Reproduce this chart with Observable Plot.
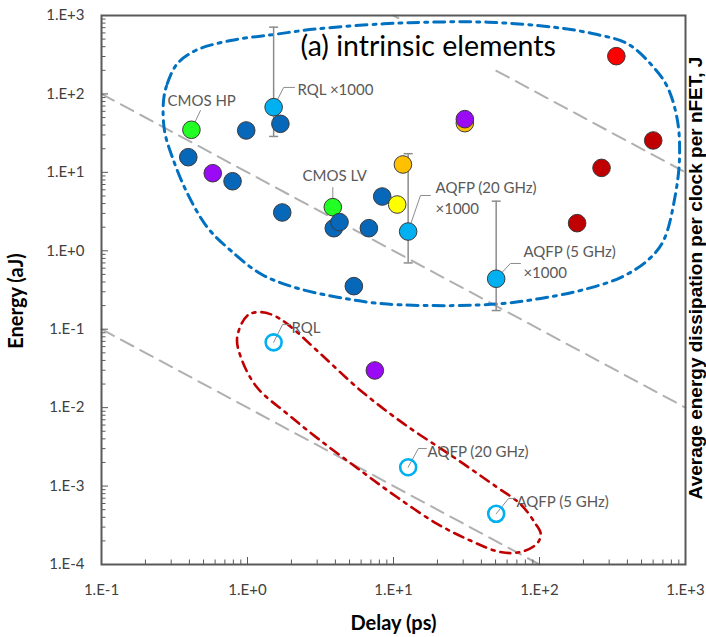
<!DOCTYPE html>
<html>
<head>
<meta charset="utf-8">
<script src="https://cdn.jsdelivr.net/npm/d3@7"></script>
<script src="https://cdn.jsdelivr.net/npm/@observablehq/plot@0.6"></script>
<style>
  html, body { margin: 0; padding: 0; background: #fff; }
  #chart { width: 706px; height: 637px; }
</style>
</head>
<body>
<div id="chart"></div>
<script>
// ---------- data (delay in ps, energy in aJ) ----------
const darkBlueDelay  = [0.393, 0.98, 1.68, 0.79, 1.73, 3.90, 4.27, 6.78, 8.37, 5.35];
const darkBlueEnergy = [15.6, 34.2, 41.6, 7.7, 3.08, 1.94, 2.32, 1.94, 4.92, 0.354];
const greenDelay  = [0.413, 3.84];
const greenEnergy = [34.9, 3.6];
const orangeDelay  = [30.8, 11.6];
const orangeEnergy = [42.4, 12.6];
const purpleDelay  = [0.578, 30.8, 7.45];
const purpleEnergy = [9.75, 47.7, 0.0298];
const yellowDelay  = [10.6];
const yellowEnergy = [3.89];
const redDelay  = [336];
const redEnergy = [303];
const darkRedDelay  = [601, 266, 181];
const darkRedEnergy = [25.5, 11.4, 2.25];
// superconducting logic x1000 (filled light blue) with ranges
const scDelay   = [1.51, 12.6, 50.5];
const scEnergyX1000 = [67.8, 1.76, 0.44];
const scLow  = [28.7, 0.70, 0.173];
const scHigh = [710, 17.3, 4.29];
// superconducting logic actual (open circles)
const scEnergy = [0.068, 0.00174, 0.000443];

// guide lines E ∝ 1/D (endpoints)
const guideId     = ["a", "a", "b", "b", "c1", "c1", "c2", "c2"];
const guideDelay  = [0.1, 1000, 0.1, 100, 10, 10.8, 50.7, 1000];
const guideEnergy = [100, 0.01, 0.1, 0.0001, 1000, 926, 197, 10];

// enclosing loops (data coordinates)
const blueLoopDelay  = [0.266,0.282,0.330,0.441,0.766,1.51,3.01,8.55,17.9,44,125,234,401,604,753,881,910,855,707,549,359,191,102,56.6,25.8,8.55,4.13,2.07,1.23,0.766,0.532,0.388,0.306,0.270];
const blueLoopEnergy = [82.4,134.6,242,358,480,572,676,783,822,822,709,585,436,219,122,45.8,15.5,5.37,1.35,0.751,0.456,0.312,0.247,0.213,0.200,0.211,0.256,0.344,0.509,1.01,1.98,5.37,15.5,34.2];
const redLoopDelay  = [1.23,1.0,0.85,0.90,1.16,1.87,3.16,5.94,10.6,19.9,33.6,54,74,96,102,94,74,51,25.9,11.8,5.94,3.16,1.87,1.51];
const redLoopEnergy = [0.165,0.150,0.079,0.044,0.0182,0.00835,0.00381,0.00158,0.00072,0.00033,0.000202,0.000144,0.000144,0.000184,0.000246,0.00033,0.00059,0.00097,0.00233,0.0062,0.0166,0.0486,0.117,0.150];

// annotation labels
const labelText   = ["CMOS HP", "RQL ×1000", "CMOS LV", "AQFP (20 GHz)\n×1000", "AQFP (5 GHz)\n×1000", "RQL", "AQFP (20 GHz)", "AQFP (5 GHz)"];
const labelDelay  = [0.283, 2.20, 2.38, 19.4, 77.6, 2.0, 17.1, 69.5];
const labelEnergy = [84.9, 117, 9.4, 4.86, 0.741, 0.108, 0.00285, 0.000655];
// leader lines
const leaderId     = [0,0, 1,1,1, 2,2, 3,3,3, 4,4,4, 5,5,5, 6,6,6, 7,7,7];
const leaderDelay  = [0.413,0.476, 1.51,1.77,2.10, 3.84,3.84, 12.6,15.3,17.9, 50.5,63.2,74.1, 1.51,1.74,1.97, 12.6,14.8,16.8, 50.5,61.4,68.5];
const leaderEnergy = [34.9,61.5, 67.8,121,121, 3.6,6.4, 1.76,5.07,5.07, 0.44,0.689,0.689, 0.068,0.115,0.115, 0.00174,0.00301,0.00301, 0.000443,0.000695,0.000695];

const xMajor = [0.1, 1, 10, 100, 1000];
const yMajor = [1e-4, 1e-3, 1e-2, 1e-1, 1, 10, 100, 1000];

// ---------- helpers ----------
const zip = (xs, ys, extra = {}) => xs.map((x, i) => ({x, y: ys[i], ...Object.fromEntries(Object.entries(extra).map(([k, v]) => [k, v[i]]))}));
const minorTicks = (lo, hi) => {
  const out = [];
  for (let e = Math.floor(Math.log10(lo)); e < Math.ceil(Math.log10(hi)); e++)
    for (let m = 2; m <= 9; m++) { const v = m * Math.pow(10, e); if (v > lo && v < hi) out.push(v); }
  return out;
};
const fmt = d => { const e = Math.round(Math.log10(d)); return "1.E" + (e >= 0 ? "+" : "-") + Math.abs(e); };
const capSymbol = { draw(ctx, size) { const w = Math.sqrt(size / Math.PI); ctx.moveTo(-w, 0); ctx.lineTo(w, 0); } };

const guides  = zip(guideDelay, guideEnergy, {id: guideId});
const leaders = zip(leaderDelay, leaderEnergy, {id: leaderId});
const labels  = zip(labelDelay, labelEnergy, {text: labelText});
const bars    = scDelay.map((x, i) => ({x, lo: scLow[i], hi: scHigh[i]}));
const caps    = scDelay.flatMap((x, i) => [{x, y: scLow[i]}, {x, y: scHigh[i]}]);

const dotStyle = {r: 8.8, stroke: "#3a3a3a", strokeWidth: 1};
const tickColor = "#595959";
const FONT = "Lato, 'Open Sans', sans-serif";

const chart = Plot.plot({
  width: 706, height: 637,
  marginLeft: 101, marginRight: 21, marginTop: 15, marginBottom: 73,
  style: {fontFamily: FONT, background: "#fff", overflow: "visible"},
  x: {type: "log", domain: [0.1, 1000]},
  y: {type: "log", domain: [1e-4, 1000]},
  marks: [
    // guide lines
    Plot.line(guides, {x: "x", y: "y", z: "id", stroke: "#b0b0b0", strokeWidth: 2, strokeDasharray: "14,8"}),
    // enclosing loops
    Plot.line(zip(blueLoopDelay, blueLoopEnergy), {x: "x", y: "y", curve: "catmull-rom-closed", stroke: "#0070C0", strokeWidth: 3, strokeDasharray: "11,6,3,6"}),
    Plot.line(zip(redLoopDelay, redLoopEnergy), {x: "x", y: "y", curve: "catmull-rom-closed", stroke: "#C00000", strokeWidth: 2.6, strokeDasharray: "10,6,3,6"}),
    // error bars
    Plot.ruleX(bars, {x: "x", y1: "lo", y2: "hi", stroke: "#8c8c8c", strokeWidth: 1.5}),
    Plot.dot(caps, {x: "x", y: "y", symbol: capSymbol, r: 4.5, stroke: "#8c8c8c", strokeWidth: 1.5, fill: "none"}),
    // leaders
    Plot.line(leaders, {x: "x", y: "y", z: "id", stroke: "#8c8c8c", strokeWidth: 1}),
    // filled points
    Plot.dot(zip(greenDelay, greenEnergy), {x: "x", y: "y", fill: "#22ff22", ...dotStyle}),
    Plot.dot(zip(darkBlueDelay, darkBlueEnergy), {x: "x", y: "y", fill: "#0767B8", ...dotStyle}),
    Plot.dot(zip(orangeDelay, orangeEnergy), {x: "x", y: "y", fill: "#FFC000", ...dotStyle}),
    Plot.dot(zip(purpleDelay, purpleEnergy), {x: "x", y: "y", fill: "#9A0AF5", ...dotStyle}),
    Plot.dot(zip(yellowDelay, yellowEnergy), {x: "x", y: "y", fill: "#FFFF00", ...dotStyle}),
    Plot.dot(zip(redDelay, redEnergy), {x: "x", y: "y", fill: "#FF0000", ...dotStyle}),
    Plot.dot(zip(darkRedDelay, darkRedEnergy), {x: "x", y: "y", fill: "#C00000", ...dotStyle}),
    Plot.dot(zip(scDelay, scEnergyX1000), {x: "x", y: "y", fill: "#00B0F0", ...dotStyle}),
    // open circles
    Plot.dot(zip(scDelay, scEnergy), {x: "x", y: "y", r: 8, stroke: "#00B0F0", strokeWidth: 2.6, fill: "none"}),
    // labels
    Plot.text(labels, {x: "x", y: "y", text: "text", textAnchor: "start", fill: "#595959", fontSize: 15, lineHeight: 1.4}),
    Plot.text(["(a) intrinsic elements"], {x: 2.31, y: 403, text: d => d, textAnchor: "start", fill: "#000", fontSize: 28.5}),
    // axes: minor ticks (inward)
    Plot.axisX({ticks: minorTicks(0.1, 1000), tickSize: -4.5, tickFormat: () => "", stroke: tickColor, strokeWidth: 1, label: null}),
    Plot.axisY({ticks: minorTicks(1e-4, 1000), tickSize: -4.5, tickFormat: () => "", stroke: tickColor, strokeWidth: 1, label: null}),
    Plot.axisX({ticks: xMajor, tickSize: -7, tickFormat: () => "", stroke: tickColor, strokeWidth: 1, label: null}),
    Plot.axisY({ticks: yMajor, tickSize: -7, tickFormat: () => "", stroke: tickColor, strokeWidth: 1, label: null}),
    // axis labels
    Plot.axisX({ticks: xMajor, tickSize: 0, tickPadding: 20, tickFormat: fmt, fontSize: 15, fill: "#404040", label: null}),
    Plot.axisY({ticks: yMajor, tickSize: 0, tickPadding: 17, tickFormat: fmt, fontSize: 15, fill: "#404040", label: null}),
    Plot.frame({stroke: "#595959", strokeWidth: 2}),
    // axis titles
    Plot.text(["Delay (ps)"], {frameAnchor: "bottom", textAnchor: "middle", lineAnchor: "middle", dy: 59, text: d => d, fontSize: 20, fontWeight: "bold", fill: "#000"}),
    Plot.text(["Energy (aJ)"], {frameAnchor: "left", textAnchor: "middle", lineAnchor: "middle", dx: -85, dy: 11, rotate: -90, text: d => d, fontSize: 20, fontWeight: "bold", fill: "#000"}),
    Plot.text(["Average energy dissipation per clock per nFET, J"], {frameAnchor: "right", textAnchor: "middle", lineAnchor: "middle", dx: 10.8, dy: -12, rotate: -90, text: d => d, fontSize: 19, fontWeight: "bold", fill: "#000", fontFamily: "'Liberation Sans', Arial, sans-serif"})
  ]
});
document.getElementById("chart").append(chart);
</script>
</body>
</html>
